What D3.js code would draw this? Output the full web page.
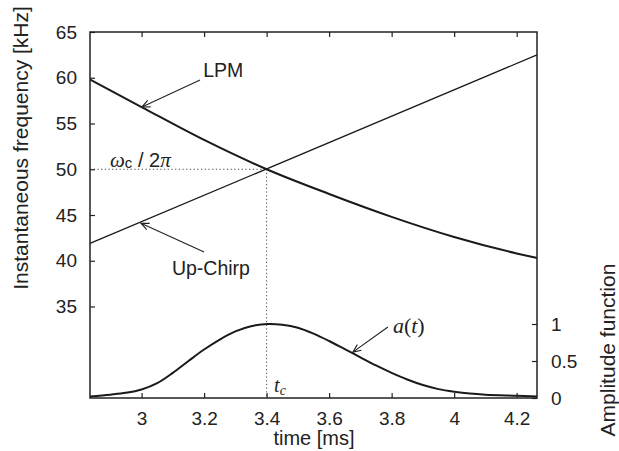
<!DOCTYPE html>
<html>
<head>
<meta charset="utf-8">
<script src="https://cdn.jsdelivr.net/npm/d3@7"></script>
<style>
  body { margin: 0; background: #fff; }
  svg { display: block; }
  text { font-family: "Liberation Sans", Arial, sans-serif; fill: #222; }
</style>
</head>
<body>
<svg id="Graph"></svg>
<script>
const w = 619;
const h = 451;

// time axis [ms]
const timeDomain = [2.835, 4.265];
const timeTicks = [3, 3.2, 3.4, 3.6, 3.8, 4, 4.2];
// frequency axis [kHz]
const freqDomain = [25, 65];
const freqTicks = [35, 40, 45, 50, 55, 60, 65];
// amplitude axis
const ampDomain = [0, 1];
const ampTicks = [0, 0.5, 1];

// LPM instantaneous frequency
const lpmTime = [2.835, 3.0, 3.2, 3.4, 3.6, 3.8, 4.0, 4.2, 4.265];
const lpmFreq = [59.8, 56.8, 53.2, 50.0, 47.3, 44.8, 42.6, 40.8, 40.3];

// Up-Chirp (linear)
const chirpTime = [2.835, 4.265];
const chirpFreq = [41.9, 62.5];

// amplitude function a(t)
const ampTime = [2.835, 2.9, 2.95, 3.0, 3.05, 3.1, 3.15, 3.2, 3.25, 3.3, 3.35, 3.405,
    3.45, 3.5, 3.55, 3.6, 3.65, 3.7, 3.75, 3.8, 3.85, 3.9, 3.95, 4.0, 4.05, 4.1, 4.2, 4.265];
const ampValue = [0.02, 0.045, 0.07, 0.115, 0.2, 0.34, 0.5, 0.655, 0.79, 0.9, 0.97, 1.0,
    0.99, 0.95, 0.87, 0.77, 0.66, 0.55, 0.44, 0.34, 0.25, 0.175, 0.12, 0.085, 0.06, 0.045, 0.03, 0.02];

// centre point
const tc = 3.4;
const fc = 50;

const pLeft = 90, pRight = 537, pTop = 32, pBottom = 398;

const svg = d3.select("#Graph")
    .attr("width", w)
    .attr("height", h);

//スケール
const xScale = d3.scaleLinear().domain(timeDomain).range([pLeft, pRight]);
const yScale = d3.scaleLinear().domain(freqDomain).range([pBottom, pTop]);
const aScale = d3.scaleLinear().domain(ampDomain).range([pBottom, 324]);

// arrow marker (open head)
svg.append("defs").append("marker")
    .attr("id", "arr")
    .attr("markerUnits", "userSpaceOnUse")
    .attr("markerWidth", 14).attr("markerHeight", 14)
    .attr("refX", 0).attr("refY", 0)
    .attr("viewBox", "-10 -7 14 14")
    .attr("orient", "auto")
    .append("path")
    .attr("d", "M-8,-3.5L0,0L-8,3.5")
    .attr("fill", "none")
    .attr("stroke", "#222")
    .attr("stroke-width", 1.1);

// dotted guide lines
svg.append("line")
    .attr("x1", pLeft).attr("x2", xScale(tc))
    .attr("y1", yScale(fc)).attr("y2", yScale(fc))
    .attr("stroke", "#444").attr("stroke-width", 1)
    .attr("stroke-dasharray", "1.2,2.5");
svg.append("line")
    .attr("x1", xScale(tc)).attr("x2", xScale(tc))
    .attr("y1", yScale(fc)).attr("y2", pBottom)
    .attr("stroke", "#444").attr("stroke-width", 1)
    .attr("stroke-dasharray", "1.2,2.5");

// curves
const lpmLine = d3.line()
    .x(function (d) { return xScale(d[0]); })
    .y(function (d) { return yScale(d[1]); })
    .curve(d3.curveMonotoneX);
svg.append("path")
    .attr("d", lpmLine(d3.zip(lpmTime, lpmFreq)))
    .attr("fill", "none").attr("stroke", "#1a1a1a").attr("stroke-width", 2);

svg.append("path")
    .attr("d", lpmLine(d3.zip(chirpTime, chirpFreq)))
    .attr("fill", "none").attr("stroke", "#1a1a1a").attr("stroke-width", 1.3);

const ampLine = d3.line()
    .x(function (d) { return xScale(d[0]); })
    .y(function (d) { return aScale(d[1]); })
    .curve(d3.curveCatmullRom);
svg.append("path")
    .attr("d", ampLine(d3.zip(ampTime, ampValue)))
    .attr("fill", "none").attr("stroke", "#1a1a1a").attr("stroke-width", 2);

// frame
svg.append("rect")
    .attr("x", pLeft).attr("y", pTop)
    .attr("width", pRight - pLeft).attr("height", pBottom - pTop)
    .attr("fill", "none").attr("stroke", "#222").attr("stroke-width", 1.5);

//軸
const axL = svg.append("g").attr("transform", "translate(" + pLeft + ",0)")
    .call(d3.axisLeft(yScale).tickValues(freqTicks).tickSizeInner(-5).tickSizeOuter(0).tickPadding(13));
const axB = svg.append("g").attr("transform", "translate(0," + pBottom + ")")
    .call(d3.axisBottom(xScale).tickValues(timeTicks).tickSizeInner(-5).tickSizeOuter(0).tickPadding(13)
        .tickFormat(d3.format("")));
const axT = svg.append("g").attr("transform", "translate(0," + pTop + ")")
    .call(d3.axisTop(xScale).tickValues(timeTicks).tickSizeInner(-5).tickSizeOuter(0).tickFormat(""));
const axR = svg.append("g").attr("transform", "translate(" + pRight + ",0)")
    .call(d3.axisRight(aScale).tickValues(ampTicks).tickSizeInner(-5).tickSizeOuter(0).tickPadding(14)
        .tickFormat(d3.format("")));
[axL, axB, axT, axR].forEach(function (g) {
    g.select(".domain").remove();
    g.selectAll("line").attr("stroke", "#222").attr("stroke-width", 1.2);
    g.selectAll("text").attr("font-size", "19px").attr("fill", "#222")
        .attr("font-family", "'Liberation Sans', Arial, sans-serif");
});
axB.selectAll("text").attr("dy", "0.72em");

//軸ラベル
svg.append("text")
    .attr("transform", "rotate(-90)")
    .attr("x", -148).attr("y", 28)
    .attr("text-anchor", "middle")
    .attr("font-size", "21px")
    .attr("fill", "#555")
    .text("Instantaneous frequency [kHz]");
svg.append("text")
    .attr("transform", "rotate(-90)")
    .attr("x", -350).attr("y", 615)
    .attr("text-anchor", "middle")
    .attr("font-size", "21px")
    .attr("fill", "#555")
    .text("Amplitude function");
svg.append("text")
    .attr("x", 314).attr("y", 445)
    .attr("text-anchor", "middle")
    .attr("font-size", "20px")
    .text("time [ms]");

// annotations
function arrow(x1, y1, x2, y2) {
    svg.append("line")
        .attr("x1", x1).attr("y1", y1).attr("x2", x2).attr("y2", y2)
        .attr("stroke", "#222").attr("stroke-width", 1.1)
        .attr("marker-end", "url(#arr)");
}
arrow(xScale(3.187), yScale(59.75), xScale(3.001), yScale(56.8));
svg.append("text").attr("x", xScale(3.197)).attr("y", yScale(60.1))
    .attr("font-size", "19.5px").text("LPM");

arrow(xScale(3.2), yScale(40.96), xScale(2.998), yScale(44.1));
svg.append("text").attr("x", xScale(3.097)).attr("y", yScale(38.4))
    .attr("font-size", "19.5px").text("Up-Chirp");

arrow(xScale(3.788), aScale(0.96), xScale(3.676), aScale(0.62));
const at = svg.append("text").attr("x", xScale(3.804)).attr("y", aScale(0.88))
    .attr("font-size", "22px").style("font-family", "'Liberation Serif', 'Times New Roman', serif");
at.append("tspan").attr("font-style", "italic").text("a");
at.append("tspan").text("(");
at.append("tspan").attr("font-style", "italic").text("t");
at.append("tspan").text(")");

const tcl = svg.append("text").attr("x", xScale(3.424)).attr("y", aScale(0.08))
    .attr("font-size", "20px").style("font-family", "'Liberation Serif', 'Times New Roman', serif")
    .attr("font-style", "italic");
tcl.append("tspan").text("t");
tcl.append("tspan").attr("font-size", "14px").attr("dy", 3).text("c");

const om = svg.append("text").attr("x", xScale(2.899)).attr("y", yScale(50.2))
    .attr("font-size", "21px");
om.append("tspan").style("font-family", "'Liberation Serif', serif").attr("font-style", "italic").text("ω");
om.append("tspan").attr("font-size", "15px").attr("dy", 1).text("c");
om.append("tspan").attr("dy", -1).attr("font-size", "20px").text(" / 2");
om.append("tspan").style("font-family", "'Liberation Serif', serif").attr("font-style", "italic").text("π");
</script>
</body>
</html>
